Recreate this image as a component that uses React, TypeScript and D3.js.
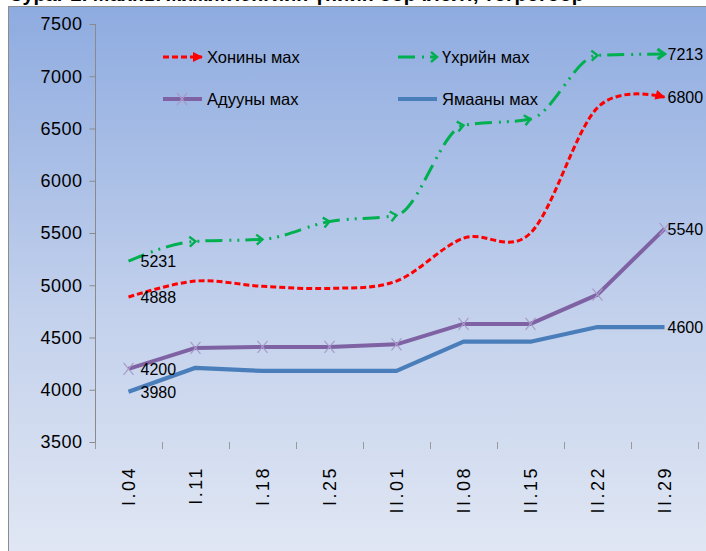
import { useEffect, useRef } from 'react'
import * as d3 from 'd3'

const categories = ['I.04', 'I.11', 'I.18', 'I.25', 'II.01', 'II.08', 'II.15', 'II.22', 'II.29']
const honinyMah = [4888, 5040, 4990, 4970, 5040, 5450, 5500, 6700, 6800]
const uhriinMah = [5231, 5420, 5440, 5610, 5670, 6530, 6590, 7200, 7213]
const aduunyMah = [4200, 4400, 4410, 4410, 4435, 4630, 4630, 4910, 5540]
const yamaanyMah = [3980, 4210, 4180, 4180, 4180, 4460, 4460, 4600, 4600]
const yTicks = [3500, 4000, 4500, 5000, 5500, 6000, 6500, 7000, 7500]
const seriesNames = ['Хонины мах', 'Үхрийн мах', 'Адууны мах', 'Ямааны мах']
const title = 'Зураг 2. Махны жижиглэнгийн үнийн өөрчлөлт, төгрөгөөр'

const FONT = "'Liberation Sans', Arial, sans-serif"

const App = () => {
  const ref = useRef(null)
  const width = 706
  const height = 551

  useEffect(() => {
    if (!ref.current) return
    const svg = d3.select(ref.current)
    svg.selectAll('*').remove()

    const defs = svg.append('defs')
    const grad = defs.append('linearGradient')
      .attr('id', 'bg').attr('x1', 0).attr('y1', 0).attr('x2', 0).attr('y2', 1)
    grad.append('stop').attr('offset', '0%').attr('stop-color', '#8eabe0')
    grad.append('stop').attr('offset', '55%').attr('stop-color', '#c3d1ec')
    grad.append('stop').attr('offset', '100%').attr('stop-color', '#e2e8f4')

    const addMarker = (id, d, fill, stroke, sw) => {
      defs.append('marker')
        .attr('id', id)
        .attr('markerUnits', 'userSpaceOnUse')
        .attr('viewBox', '-12 -8 16 16')
        .attr('refX', 0).attr('refY', 0)
        .attr('markerWidth', 16).attr('markerHeight', 16)
        .attr('orient', 'auto')
        .append('path')
        .attr('d', d)
        .attr('fill', fill)
        .attr('stroke', stroke)
        .attr('stroke-width', sw)
        .attr('stroke-linejoin', 'miter')
    }
    addMarker('chev', 'M-6,-5L0,0L-6,5', 'none', '#00b050', 2.4)
    addMarker('chevEnd', 'M-7,-5L0,0L-7,5', 'none', '#00b050', 3.2)
    addMarker('redEnd', 'M-9,-5L1,0L-9,5Z', '#ff0000', 'none', 0)

    // title cut off at top of picture
    svg.append('text')
      .attr('x', 10).attr('y', 1)
      .style('font-family', FONT)
      .style('font-weight', 'bold')
      .style('font-size', '20px')
      .text(title)

    svg.append('rect')
      .attr('x', 8.5).attr('y', 6.5)
      .attr('width', 720).attr('height', 560)
      .attr('fill', 'url(#bg)')
      .attr('stroke', '#8c8c8c')

    const x = d3.scaleBand().domain(categories).range([95, 698])
    const cx = i => x(categories[i]) + x.bandwidth() / 2
    const y = d3.scaleLinear().domain([3500, 7500]).range([442, 24])

    // y axis
    const yAxis = svg.append('g')
      .attr('transform', 'translate(95.5,0)')
      .call(d3.axisLeft(y).tickValues(yTicks).tickSize(6).tickSizeOuter(0).tickPadding(7).tickFormat(d3.format('d')))
    yAxis.select('.domain').remove()
    yAxis.selectAll('line').attr('stroke', '#8a8a8a')
    yAxis.selectAll('text')
      .style('font-family', FONT)
      .style('font-size', '18px')
      .style('letter-spacing', '0.5px')
      .attr('fill', '#000')
    svg.append('line')
      .attr('x1', 95.5).attr('x2', 95.5)
      .attr('y1', y(7500)).attr('y2', 449)
      .attr('stroke', '#8a8a8a')

    // x ticks and labels
    const bounds = categories.map(c => x(c)).concat([x.range()[1]])
    svg.selectAll('.xtick').data(bounds).enter().append('line')
      .attr('class', 'xtick')
      .attr('x1', d => Math.round(d) + 0.5).attr('x2', d => Math.round(d) + 0.5)
      .attr('y1', 442).attr('y2', 449)
      .attr('stroke', '#9a9a9a')

    svg.selectAll('.xlab').data(categories).enter().append('text')
      .attr('class', 'xlab')
      .attr('transform', (d, i) => `translate(${cx(i)},466) rotate(-90)`)
      .attr('text-anchor', 'end')
      .attr('dy', '0.36em')
      .style('font-family', FONT)
      .style('font-size', '18px')
      .style('letter-spacing', '2.5px')
      .text(d => d)

    const smooth = d3.line().x((d, i) => cx(i)).y(d => y(d)).curve(d3.curveCardinal.tension(0))
    const soft = d3.line().x((d, i) => cx(i)).y(d => y(d)).curve(d3.curveMonotoneX)
    const straight = d3.line().x((d, i) => cx(i)).y(d => y(d))

    // Ямааны мах
    svg.append('path')
      .attr('d', straight(yamaanyMah))
      .attr('fill', 'none')
      .attr('stroke', '#4a7ebb')
      .attr('stroke-width', 4.2)
      .attr('stroke-linejoin', 'round')

    // Адууны мах
    svg.append('path')
      .attr('d', straight(aduunyMah))
      .attr('fill', 'none')
      .attr('stroke', '#7f62a3')
      .attr('stroke-width', 4)
      .attr('stroke-linejoin', 'round')
    svg.selectAll('.xmark').data(aduunyMah).enter().append('path')
      .attr('class', 'xmark')
      .attr('d', (d, i) => `M${cx(i) - 5},${y(d) - 6}L${cx(i) + 5},${y(d) + 6}M${cx(i) - 5},${y(d) + 6}L${cx(i) + 5},${y(d) - 6}`)
      .attr('stroke', '#a89ac8')
      .attr('stroke-width', 1.2)

    // Хонины мах
    svg.append('path')
      .attr('d', smooth(honinyMah))
      .attr('fill', 'none')
      .attr('stroke', '#ff0000')
      .attr('stroke-width', 3)
      .attr('stroke-dasharray', '6 3')
      .attr('marker-end', 'url(#redEnd)')

    // Үхрийн мах
    svg.append('path')
      .attr('d', soft(uhriinMah))
      .attr('fill', 'none')
      .attr('stroke', '#00b050')
      .attr('stroke-width', 3)
      .attr('stroke-dasharray', '17 7 2 6 2 6')
      .attr('marker-mid', 'url(#chev)')
      .attr('marker-end', 'url(#chevEnd)')

    // data labels
    const last = categories.length - 1
    const labels = [
      [uhriinMah, 0], [honinyMah, 0], [aduunyMah, 0], [yamaanyMah, 0],
      [uhriinMah, last], [honinyMah, last], [aduunyMah, last], [yamaanyMah, last]
    ]
    svg.selectAll('.dlab').data(labels).enter().append('text')
      .attr('class', 'dlab')
      .attr('x', d => d[1] === 0 ? cx(0) + 12 : cx(last) + 3)
      .attr('y', d => y(d[0][d[1]]))
      .attr('dy', '0.36em')
      .style('font-family', FONT)
      .style('font-size', '16px')
      .text(d => d[0][d[1]])

    // legend
    const legendPos = [[163, 57], [398, 57], [163, 99], [398, 99]]
    const lg = svg.selectAll('.leg').data(seriesNames).enter().append('g')
      .attr('class', 'leg')
      .attr('transform', (d, i) => `translate(${legendPos[i][0]},${legendPos[i][1]})`)
    lg.append('path')
      .attr('d', 'M0,0L39,0')
      .attr('fill', 'none')
      .attr('stroke', (d, i) => ['#ff0000', '#00b050', '#7f62a3', '#4a7ebb'][i])
      .attr('stroke-width', (d, i) => [3, 3, 4, 4.2][i])
      .attr('stroke-dasharray', (d, i) => ['6 3', '17 7 2 6', null, null][i])
      .attr('marker-end', (d, i) => ['url(#redEnd)', 'url(#chev)', null, null][i])
    lg.filter((d, i) => i === 2).append('path')
      .attr('d', 'M14,-6L24,6M14,6L24,-6')
      .attr('stroke', '#a89ac8')
      .attr('stroke-width', 1.2)
    lg.append('text')
      .attr('x', 44)
      .attr('dy', '0.36em')
      .style('font-family', FONT)
      .style('font-size', '16.5px')
      .text(d => d)
  }, [])

  return (
    <div style={{ position: 'absolute', left: 0, top: 0 }}>
      <svg width={width} height={height} ref={ref} style={{ display: 'block' }} />
    </div>
  )
}

export default App
